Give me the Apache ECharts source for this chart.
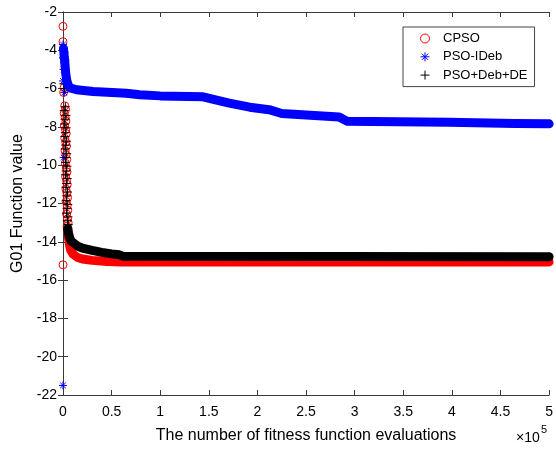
<!DOCTYPE html>
<html>
<head>
<meta charset="utf-8">
<script src="https://cdn.jsdelivr.net/npm/echarts@6/dist/echarts.min.js"></script>
<style>
html,body{margin:0;padding:0;background:#fff;}
#c{width:556px;height:449px;}
</style>
</head>
<body>
<div id="c"></div>
<script>
// ---- data (x = number of fitness function evaluations, y = G01 function value) ----
const seriesNames = ['CPSO', 'PSO-IDeb', 'PSO+Deb+DE'];
const xTickValues = [0, 50000, 100000, 150000, 200000, 250000, 300000, 350000, 400000, 450000, 500000];
const yTickValues = [-22, -20, -18, -16, -14, -12, -10, -8, -6, -4, -2];

// CPSO: early individual markers and the dense converged band
const cpsoEarly = [[0,-2.75],[0,-3.55],[0,-15.2],[1200,-5.95],[600,-6.2],[1800,-6.9],[2600,-7.1],[1200,-7.3],[2200,-7.5],[3000,-7.7],[1500,-7.95],[2600,-8.15],[3300,-8.35],[1800,-8.6],[2900,-8.8],[3600,-9.0],[2100,-9.25],[3100,-9.45],[3900,-9.7],[2400,-9.9],[3400,-10.15],[4100,-10.35],[2700,-10.6],[3700,-10.8],[4400,-11.0],[3000,-11.25],[4000,-11.45],[4700,-11.7],[3300,-11.9],[4300,-12.1],[5000,-12.35],[3700,-12.55],[4700,-12.8],[5300,-13.0],[4200,-13.2],[5200,-13.45]];
const cpsoBand = [[5200,-13.5],[5800,-13.85],[6800,-14.2],[8000,-14.45],[10500,-14.65],[15000,-14.82],[20000,-14.9],[30000,-14.97],[45000,-15.03],[60000,-15.05],[500000,-15.05]];

// PSO-IDeb
const psoIDebEarly = [[0,-21.5],[800,-9.6],[0,-3.7],[1600,-4.1],[600,-5.0],[2400,-4.5],[0,-5.6],[1400,-6.2],[0,-4.4],[3000,-5.3]];
const psoIDebBand = [[500,-3.9],[1800,-4.6],[2800,-5.2],[3800,-5.55],[5500,-5.85],[8000,-5.98],[14000,-6.06],[31000,-6.15],[65000,-6.24],[79000,-6.32],[100000,-6.38],[144000,-6.43],[171000,-6.76],[192000,-6.97],[212000,-7.1],[225000,-7.3],[250000,-7.38],[284000,-7.48],[292000,-7.7],[397000,-7.76],[465000,-7.82],[500000,-7.84]];

// PSO+Deb+DE
const psoDebDEEarly = [[500,-4.0],[1200,-4.35],[1600,-4.65],[900,-5.75],[1700,-6.0],[2400,-6.95],[1300,-7.15],[3000,-7.4],[2100,-7.6],[1600,-7.85],[3200,-8.05],[2500,-8.3],[1900,-8.5],[3500,-8.75],[2800,-8.95],[2200,-9.15],[3800,-9.4],[3100,-9.6],[2500,-9.85],[4000,-10.05],[3300,-10.3],[2700,-10.5],[4300,-10.7],[3600,-10.95],[3000,-11.15],[4600,-11.4],[3900,-11.6],[3300,-11.85],[4900,-12.05],[4200,-12.25],[3600,-12.5],[5100,-12.7],[4500,-12.9],[5400,-13.1],[4900,-13.3]];
const psoDebDEBand = [[4900,-13.3],[5600,-13.55],[7000,-13.8],[8500,-13.97],[10500,-14.05],[15000,-14.22],[20000,-14.33],[30000,-14.45],[40000,-14.55],[50000,-14.63],[58000,-14.68],[62000,-14.76],[500000,-14.78]];

// ---- styling ----
const FONT = 'Liberation Sans, Arial, sans-serif';
const AXIS_COLOR = '#3a3a3a';
const PLUS = 'path://M5,0L5,10M0,5L10,5';
const STAR = 'path://M5,0L5,10M0,5L10,5M1.5,1.5L8.5,8.5M1.5,8.5L8.5,1.5';
const colors = ['#ff0000', '#0000ff', '#000000'];

const chart = echarts.init(document.getElementById('c'), null, {renderer: 'canvas'});

const xMin = xTickValues[0], xMax = xTickValues[xTickValues.length - 1];
const xInt = xTickValues[1] - xTickValues[0];
const yMin = yTickValues[0], yMax = yTickValues[yTickValues.length - 1];
const yInt = yTickValues[1] - yTickValues[0];

function bandSeries(name, data, color, width) {
  return {
    name, type: 'line', data, xAxisIndex: 0, yAxisIndex: 0,
    showSymbol: false, symbol: 'none', clip: false, animation: false,
    lineStyle: {color, width, cap: 'round', join: 'round'},
    itemStyle: {color}, silent: true
  };
}
function markerSeries(name, data, color, symbol, size) {
  return {
    name, type: 'scatter', data, xAxisIndex: 0, yAxisIndex: 0,
    symbol, symbolSize: size, clip: false, animation: false, silent: true,
    itemStyle: {color: 'rgba(0,0,0,0)', borderColor: color, borderWidth: 1, opacity: 1}
  };
}

const baseAxisLine = {show: true, lineStyle: {color: AXIS_COLOR, width: 1}};

chart.setOption({
  animation: false,
  backgroundColor: '#fff',
  grid: {left: 63, top: 12, width: 488, height: 384, show: false},
  legend: {
    orient: 'vertical',
    left: 403, top: 27,
    padding: [5, 7, 5, 17],
    itemWidth: 26, itemHeight: 9, itemGap: 5.3,
    symbolKeepAspect: true,
    backgroundColor: '#fff',
    borderColor: '#444', borderWidth: 1, borderRadius: 0,
    textStyle: {fontFamily: FONT, fontSize: 13, color: '#000', lineHeight: 13},
    selectedMode: false,
    data: [
      {name: seriesNames[0], icon: 'circle', itemStyle: {color: 'rgba(0,0,0,0)', borderColor: colors[0], borderWidth: 1}},
      {name: seriesNames[1], icon: STAR, itemStyle: {color: 'rgba(0,0,0,0)', borderColor: colors[1], borderWidth: 1}},
      {name: seriesNames[2], icon: PLUS, itemStyle: {color: 'rgba(0,0,0,0)', borderColor: colors[2], borderWidth: 1}}
    ]
  },
  xAxis: [
    {
      type: 'value', min: xMin, max: xMax, interval: xInt, position: 'bottom',
      name: 'The number of fitness function evaluations', nameLocation: 'middle', nameGap: 33,
      nameTextStyle: {fontFamily: FONT, fontSize: 16, color: '#000'},
      axisLine: baseAxisLine,
      axisTick: {show: true, inside: true, length: 5, lineStyle: {color: AXIS_COLOR}},
      axisLabel: {fontFamily: FONT, fontSize: 14, color: '#000', margin: 10,
        formatter: v => String(+(v / 100000).toFixed(1))},
      splitLine: {show: false}
    },
    {
      type: 'value', min: xMin, max: xMax, interval: xInt, position: 'top',
      axisLine: baseAxisLine,
      axisTick: {show: true, inside: true, length: 5, lineStyle: {color: AXIS_COLOR}},
      axisLabel: {show: false}, splitLine: {show: false}
    }
  ],
  yAxis: [
    {
      type: 'value', min: yMin, max: yMax, interval: yInt, position: 'left',
      name: 'G01 Function value', nameLocation: 'middle', nameGap: 36,
      nameTextStyle: {fontFamily: FONT, fontSize: 16, color: '#000'},
      axisLine: baseAxisLine,
      axisTick: {show: true, inside: true, length: 5, lineStyle: {color: AXIS_COLOR}},
      axisLabel: {fontFamily: FONT, fontSize: 14, color: '#000', margin: 6},
      splitLine: {show: false}
    },
    {
      type: 'value', min: yMin, max: yMax, interval: yInt, position: 'right',
      axisLine: baseAxisLine,
      axisTick: {show: true, inside: true, length: 5, lineStyle: {color: AXIS_COLOR}},
      axisLabel: {show: false}, splitLine: {show: false}
    }
  ],
  graphic: [
    {type: 'text', left: 516, top: 431, silent: true,
      style: {text: '×10', font: '14px ' + FONT, fill: '#000'}},
    {type: 'text', left: 541, top: 424, silent: true,
      style: {text: '5', font: '11px ' + FONT, fill: '#000'}}
  ],
  series: [
    bandSeries(seriesNames[0], cpsoBand, colors[0], 9),
    markerSeries(seriesNames[0], cpsoEarly, colors[0], 'circle', 8),
    bandSeries(seriesNames[1], psoIDebBand, colors[1], 9),
    markerSeries(seriesNames[1], psoIDebEarly, colors[1], STAR, 8),
    bandSeries(seriesNames[2], psoDebDEBand, colors[2], 9),
    markerSeries(seriesNames[2], psoDebDEEarly, colors[2], PLUS, 9)
  ]
});
</script>
</body>
</html>
